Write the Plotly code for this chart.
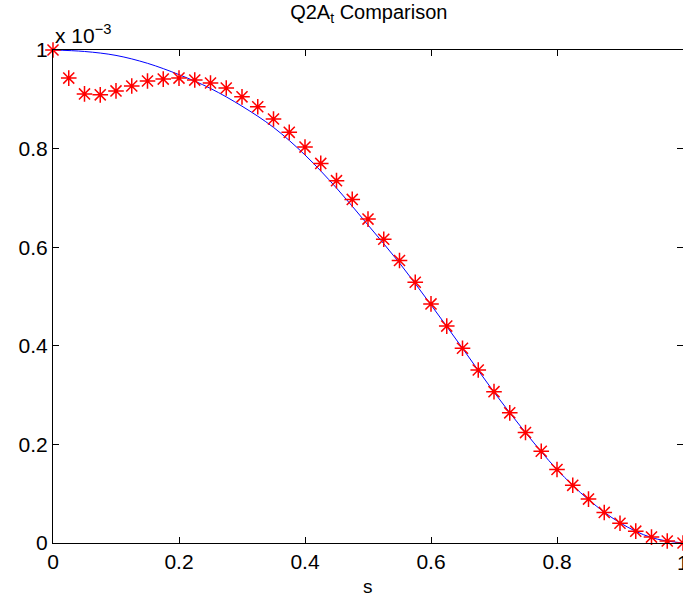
import plotly.graph_objects as go

# Data (values in units of 1e-3)
s_star = [0, 0.025, 0.05, 0.075, 0.1, 0.125, 0.15, 0.175, 0.2, 0.225,
          0.25, 0.275, 0.3, 0.325, 0.35, 0.375, 0.4, 0.425, 0.45, 0.475,
          0.5, 0.525, 0.55, 0.575, 0.6, 0.625, 0.65, 0.675, 0.7, 0.725,
          0.75, 0.775, 0.8, 0.825, 0.85, 0.875, 0.9, 0.925, 0.95, 0.975, 1.0]
q_star = [1.0, 0.943, 0.911, 0.909, 0.917, 0.927, 0.937, 0.941, 0.943, 0.939,
          0.933, 0.923, 0.905, 0.885, 0.860, 0.833, 0.803, 0.770, 0.735, 0.697,
          0.657, 0.616, 0.573, 0.529, 0.485, 0.440, 0.395, 0.351, 0.307, 0.264,
          0.224, 0.186, 0.149, 0.117, 0.089, 0.062, 0.040, 0.024, 0.012, 0.004, 0.0]

s_line = [0, 0.05, 0.1, 0.15, 0.2, 0.25, 0.3, 0.35, 0.4, 0.45, 0.5,
          0.55, 0.6, 0.65, 0.7, 0.75, 0.8, 0.85, 0.9, 0.95, 1.0]
q_line = [1.0, 0.997, 0.989, 0.973, 0.950, 0.922, 0.886, 0.843, 0.787, 0.720, 0.645,
          0.568, 0.483, 0.395, 0.306, 0.224, 0.149, 0.088, 0.041, 0.011, 0.0]

tick_vals = [0, 0.2, 0.4, 0.6, 0.8, 1]
tick_text = ["0", "0.2", "0.4", "0.6", "0.8", "1"]

FONT = "Liberation Sans, Arial, Helvetica, sans-serif"

fig = go.Figure()
fig.add_trace(go.Scatter(x=s_line, y=q_line, mode="lines",
                         line=dict(color="#0000ff", width=1, shape="spline"),
                         showlegend=False))
fig.add_trace(go.Scatter(x=s_star, y=q_star, mode="markers",
                         marker=dict(symbol="asterisk-open", size=13, color="#ff0000",
                                     line=dict(color="#ff0000", width=1.5)),
                         cliponaxis=False, showlegend=False))

axis_common = dict(showline=True, linecolor="black", linewidth=1.2, mirror="ticks",
                   ticks="inside", ticklen=6, tickcolor="black", tickwidth=1,
                   showgrid=False, zeroline=False, automargin=False,
                   tickvals=tick_vals, ticktext=tick_text,
                   tickfont=dict(family=FONT, size=21, color="black"))

fig.update_layout(
    width=683, height=598,
    margin=dict(l=53, r=0, t=50, b=55),
    paper_bgcolor="white", plot_bgcolor="white",
    title=dict(text="Q2A<sub>t</sub> Comparison", x=0.54, xanchor="center",
               y=0.992, yanchor="top",
               font=dict(family=FONT, size=20, color="black")),
    xaxis=dict(range=[0, 1], **axis_common),
    yaxis=dict(range=[0, 1], **axis_common),
    annotations=[
        dict(text="x 10<sup>−3</sup>", xref="paper", yref="paper",
             x=0.0, y=1.0, xanchor="left", yanchor="bottom", yshift=1,
             showarrow=False,
             font=dict(family=FONT, size=21, color="black")),
        dict(text="s", xref="paper", yref="paper",
             x=0.5, y=0.0, xanchor="center", yanchor="top", yshift=-31,
             showarrow=False,
             font=dict(family=FONT, size=19, color="black")),
        # right-edge x tick label, partly outside the canvas as in the reference
        dict(text=tick_text[-1], xref="x", yref="paper",
             x=tick_vals[-1], y=0.0, xanchor="center", yanchor="top", yshift=-6,
             showarrow=False,
             font=dict(family=FONT, size=21, color="black")),
    ],
)

fig.write_html("out.html",
               config={"displayModeBar": False},
               post_script="document.body.style.margin='0';document.body.style.overflow='hidden';")
